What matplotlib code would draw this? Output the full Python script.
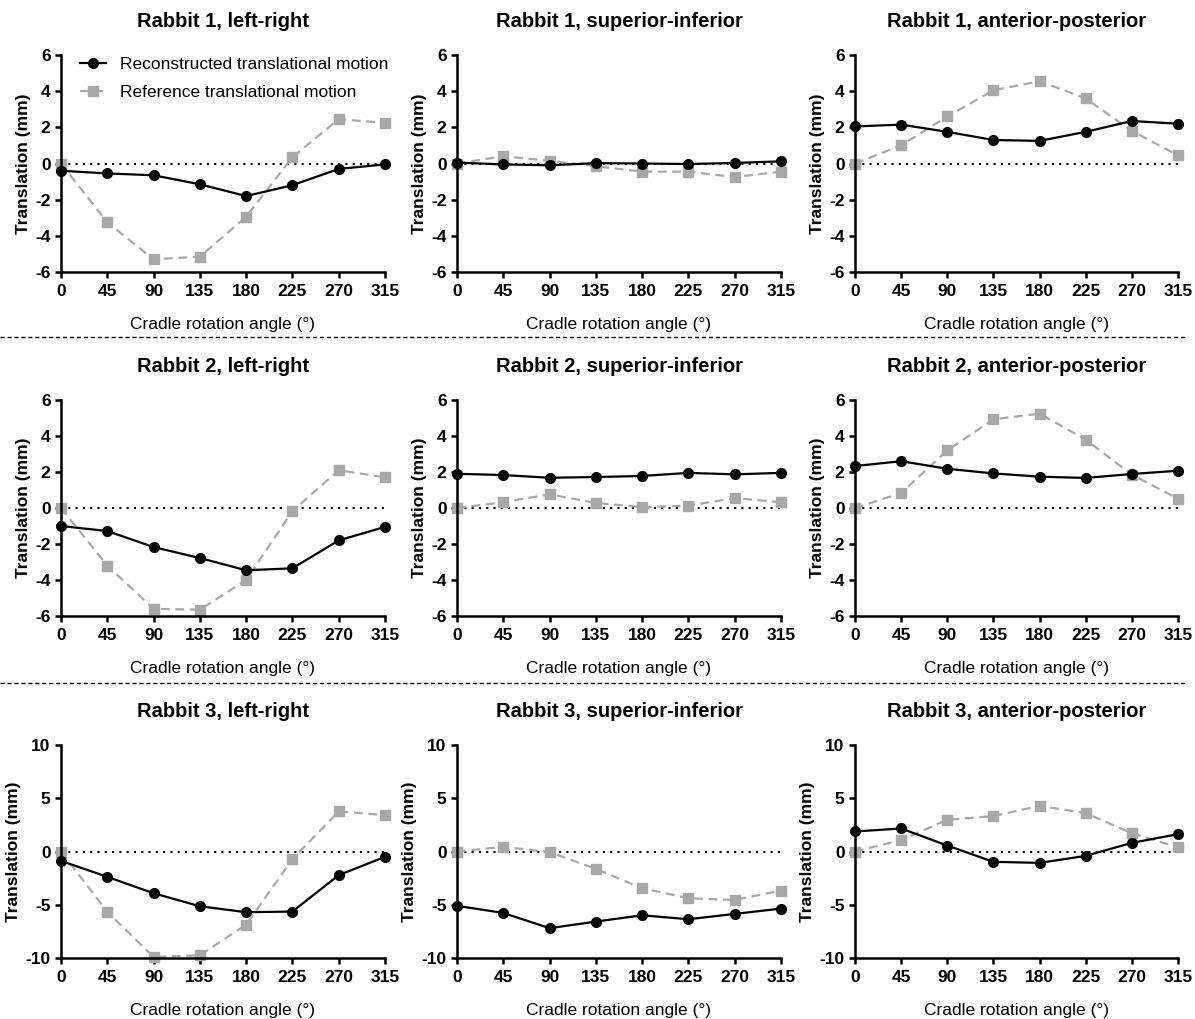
import matplotlib
matplotlib.use("Agg")
import matplotlib.pyplot as plt
from matplotlib.lines import Line2D

plt.rcParams['font.family'] = ['Liberation Sans', 'DejaVu Sans']
plt.rcParams['axes.unicode_minus'] = False

# cradle rotation angles (deg)
angles = [0, 45, 90, 135, 180, 225, 270, 315]
tick_labels = ['0', '45', '90', '135', '180', '225', '270', '315']

titles = [
    "Rabbit 1, left-right", "Rabbit 1, superior-inferior", "Rabbit 1, anterior-posterior",
    "Rabbit 2, left-right", "Rabbit 2, superior-inferior", "Rabbit 2, anterior-posterior",
    "Rabbit 3, left-right", "Rabbit 3, superior-inferior", "Rabbit 3, anterior-posterior",
]

# reconstructed translational motion (mm)
r1_lr_rec = [-0.4, -0.55, -0.65, -1.15, -1.8, -1.2, -0.3, -0.05]
r1_si_rec = [0.05, -0.05, -0.1, 0.02, 0.0, -0.03, 0.03, 0.12]
r1_ap_rec = [2.05, 2.15, 1.75, 1.3, 1.25, 1.75, 2.35, 2.2]
r2_lr_rec = [-1.0, -1.28, -2.17, -2.78, -3.46, -3.35, -1.8, -1.05]
r2_si_rec = [1.9, 1.83, 1.68, 1.72, 1.78, 1.95, 1.87, 1.95]
r2_ap_rec = [2.33, 2.6, 2.18, 1.92, 1.74, 1.67, 1.89, 2.07]
r3_lr_rec = [-0.88, -2.38, -3.92, -5.14, -5.7, -5.64, -2.22, -0.5]
r3_si_rec = [-5.1, -5.77, -7.2, -6.58, -5.99, -6.36, -5.86, -5.36]
r3_ap_rec = [1.88, 2.16, 0.56, -0.97, -1.07, -0.41, 0.81, 1.63]

# reference translational motion (mm)
r1_lr_ref = [0.0, -3.25, -5.3, -5.15, -2.95, 0.35, 2.45, 2.25]
r1_si_ref = [0.0, 0.4, 0.15, -0.15, -0.45, -0.45, -0.75, -0.45]
r1_ap_ref = [0.0, 1.0, 2.6, 4.05, 4.55, 3.6, 1.8, 0.45]
r2_lr_ref = [0.0, -3.2, -5.6, -5.65, -4.0, -0.17, 2.1, 1.7]
r2_si_ref = [0.0, 0.32, 0.76, 0.28, 0.05, 0.13, 0.55, 0.32]
r2_ap_ref = [0.0, 0.83, 3.2, 4.93, 5.24, 3.8, 1.85, 0.52]
r3_lr_ref = [0.0, -5.67, -9.9, -9.75, -6.87, -0.72, 3.76, 3.42]
r3_si_ref = [0.0, 0.44, -0.06, -1.63, -3.45, -4.39, -4.55, -3.67]
r3_ap_ref = [0.0, 1.07, 2.98, 3.32, 4.29, 3.6, 1.72, 0.38]

recon = [r1_lr_rec, r1_si_rec, r1_ap_rec, r2_lr_rec, r2_si_rec, r2_ap_rec,
         r3_lr_rec, r3_si_rec, r3_ap_rec]
refer = [r1_lr_ref, r1_si_ref, r1_ap_ref, r2_lr_ref, r2_si_ref, r2_ap_ref,
         r3_lr_ref, r3_si_ref, r3_ap_ref]

W, H = 1195, 1019
fig = plt.figure(figsize=(W / 100, H / 100), dpi=100)

# axes boxes in pixels (left, top, right, bottom)
col_x = [(61, 385), (457, 781), (855, 1178)]
row_y = [(55, 272), (400, 616), (745, 958)]

gray = '#a8a8a8'

for i in range(9):
    r, c = divmod(i, 3)
    x0, x1 = col_x[c]
    y0, y1 = row_y[r]
    ax = fig.add_axes([x0 / W, 1 - y1 / H, (x1 - x0) / W, (y1 - y0) / H])

    ax.axhline(0, color='black', linestyle=(0, (1, 2.5)), linewidth=1.5, zorder=1)
    ref_line, = ax.plot(angles, refer[i], color=gray, linestyle='--', dashes=(4, 2.5),
                        linewidth=1.6, marker='s', markersize=7, clip_on=False, zorder=2,
                        label='Reference translational motion')
    rec_line, = ax.plot(angles, recon[i], color='black', linewidth=1.6, marker='o',
                        markersize=7, clip_on=False, zorder=3,
                        label='Reconstructed translational motion')

    ax.set_xlim(0, 315)
    if r < 2:
        ax.set_ylim(-6, 6)
        ax.set_yticks([-6, -4, -2, 0, 2, 4, 6])
    else:
        ax.set_ylim(-10, 10)
        ax.set_yticks([-10, -5, 0, 5, 10])
    ax.set_xticks(angles)
    ax.set_xticklabels(tick_labels)

    for side in ['top', 'right']:
        ax.spines[side].set_visible(False)
    for side in ['left', 'bottom']:
        ax.spines[side].set_linewidth(1.8)
    ax.tick_params(width=1.8, length=4.5, labelsize=12.5, pad=3)
    ax.tick_params(axis='x', pad=4)
    for lab in ax.get_xticklabels() + ax.get_yticklabels():
        lab.set_fontweight('bold')

    ax.set_title(titles[i], fontsize=14.5, fontweight='bold', pad=20)
    ax.set_ylabel('Translation (mm)', fontsize=12.5, fontweight='bold', labelpad=3)
    ax.set_xlabel('Cradle rotation angle (°)', fontsize=12.5, labelpad=13)

    if i == 0:
        ax.legend(handles=[rec_line, ref_line], loc='upper left', frameon=False,
                  fontsize=12.5, bbox_to_anchor=(0.01, 1.065), handlelength=1.5,
                  handletextpad=0.8, labelspacing=0.75)

# dashed separators between rabbits
for y in [337, 683]:
    fig.add_artist(Line2D([0, 1185 / W], [1 - y / H, 1 - y / H], color='black',
                          linestyle='--', dashes=(3, 2), linewidth=1.0))

fig.savefig('out.png', dpi=100)
